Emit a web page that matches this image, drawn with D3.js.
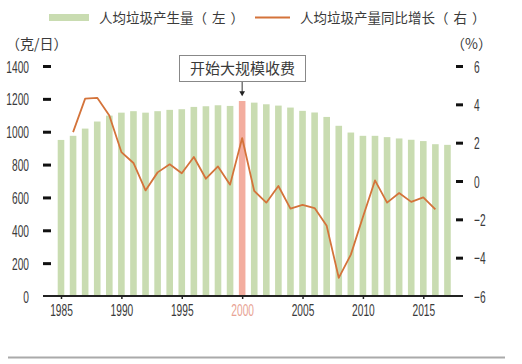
<!DOCTYPE html>
<html>
<head>
<meta charset="utf-8">
<script src="https://cdn.jsdelivr.net/npm/d3@7"></script>
<style>
  body { margin: 0; background: #fff; }
  svg { display: block; font-family: "Noto Sans CJK SC", sans-serif; }
</style>
</head>
<body>
<svg width="522" height="364"></svg>
<script>
// 年份
var years = [1985, 1986, 1987, 1988, 1989, 1990, 1991, 1992, 1993, 1994, 1995, 1996, 1997, 1998, 1999, 2000,
  2001, 2002, 2003, 2004, 2005, 2006, 2007, 2008, 2009, 2010, 2011, 2012, 2013, 2014, 2015, 2016, 2017];
// 人均垃圾产生量 (克/日)
var perCapita = [950, 975, 1019, 1062, 1098, 1116, 1125, 1116, 1125, 1133, 1137, 1151, 1155, 1161, 1157, 1187,
  1177, 1167, 1159, 1147, 1127, 1117, 1090, 1036, 995, 975, 975, 967, 959, 951, 943, 924, 920];
// 同比增长 (%), 1986 - 2016
var growthYears = years.slice(1, 32);
var growth = [2.55, 4.3, 4.34, 3.42, 1.51, 0.94, -0.49, 0.45, 0.87, 0.4, 1.25, 0.12, 0.76, -0.19, 2.24,
  -0.52, -1.13, -0.26, -1.44, -1.25, -1.41, -2.34, -5.05, -3.84, -1.88, 0.03, -1.13, -0.63, -1.09, -0.85, -1.48];
var leftTicks = [0, 200, 400, 600, 800, 1000, 1200, 1400];
var rightTicks = [-6, -4, -2, 0, 2, 4, 6];
var xTicks = [1985, 1990, 1995, 2000, 2005, 2010, 2015];
var highlightYear = 2000;

var svg = d3.select("svg");
var green = "#c9dcb1", pink = "#f3ad9f", orange = "#d4733a", txt = "#3a3a3a";
var squeeze = 0.6; // 窄体数字

var x = d3.scaleLinear().domain([1985, 2015]).range([61, 423.3]);
var yL = d3.scaleLinear().domain([0, 1400]).range([296, 66]);
var yR = d3.scaleLinear().domain([-6, 6]).range([296, 66]);

// 柱子
svg.append("g").selectAll("rect")
  .data(years)
  .enter().append("rect")
  .attr("x", function(d) { return x(d) - 3.3; })
  .attr("width", 6.6)
  .attr("y", function(d, i) { return yL(perCapita[i]); })
  .attr("height", function(d, i) { return yL(0) - yL(perCapita[i]); })
  .attr("fill", function(d) { return d === highlightYear ? pink : green; });

// 折线
var line = d3.line()
  .x(function(d, i) { return x(growthYears[i]); })
  .y(function(d) { return yR(d); });
svg.append("path")
  .datum(growth)
  .attr("d", line)
  .attr("fill", "none")
  .attr("stroke", orange)
  .attr("stroke-width", 1.8)
  .attr("stroke-linejoin", "round");

function squeezeLabels(g, anchor) {
  g.selectAll("text").each(function() {
    var t = d3.select(this);
    var tx = +t.attr("x") || 0;
    t.attr("x", tx / squeeze)
      .attr("transform", "scale(" + squeeze + ",1)")
      .attr("text-anchor", anchor);
  });
}

// 左轴
var gl = svg.append("g").attr("transform", "translate(51,0)")
  .call(d3.axisLeft(yL).tickValues(leftTicks).tickFormat(d3.format("d")).tickSize(8).tickPadding(14));
gl.select(".domain").remove();
gl.selectAll("line").attr("stroke", "#111").attr("stroke-width", 3)
  .filter(function(d) { return d === 0; }).remove();
gl.selectAll("text").attr("font-family", "Liberation Sans, Arial, sans-serif")
  .attr("font-size", 17).attr("fill", txt).attr("dy", "0.36em");
squeezeLabels(gl, "end");

// 右轴
var gr = svg.append("g").attr("transform", "translate(456,0)")
  .call(d3.axisRight(yR).tickValues(rightTicks).tickFormat(d3.format("d")).tickSize(7).tickPadding(11));
gr.select(".domain").remove();
gr.selectAll("line").attr("stroke", "#111").attr("stroke-width", 3)
  .filter(function(d) { return d === -6; }).remove();
gr.selectAll("text").attr("font-family", "Liberation Sans, Arial, sans-serif")
  .attr("font-size", 17).attr("fill", txt).attr("dy", "0.36em");
squeezeLabels(gr, "start");

// X 轴
var gx = svg.append("g").attr("transform", "translate(0,296)")
  .call(d3.axisBottom(x).tickValues(xTicks).tickFormat(d3.format("d")).tickSize(3).tickPadding(4));
gx.select(".domain").remove();
gx.selectAll("line").attr("stroke", "#222").attr("stroke-width", 1.5);
gx.selectAll("text").attr("font-family", "Liberation Sans, Arial, sans-serif")
  .attr("font-size", 17).attr("dy", "0.75em")
  .attr("fill", function(d) { return d === highlightYear ? "#e8a394" : txt; });
squeezeLabels(gx, "middle");
svg.append("line")
  .attr("x1", 43).attr("x2", 463).attr("y1", 296).attr("y2", 296)
  .attr("stroke", "#222").attr("stroke-width", 2);

// 单位
svg.append("text").attr("x", 6).attr("y", 49).attr("font-size", 14).attr("fill", txt).text("（克/日）");
svg.append("text").attr("x", 492).attr("y", 49).attr("font-size", 14).attr("fill", txt)
  .attr("text-anchor", "end").text("（%）");

// 图例
function legendText(xPos, main, side) {
  var t = svg.append("text").attr("x", xPos).attr("y", 22.5).attr("font-size", 13.5).attr("fill", txt);
  t.append("tspan").text(main);
  t.append("tspan").attr("letter-spacing", 5).text(side);
}
svg.append("rect").attr("x", 49).attr("y", 14).attr("width", 40).attr("height", 7).attr("fill", green);
legendText(99, "人均垃圾产生量", "（左）");
svg.append("line").attr("x1", 255).attr("x2", 290).attr("y1", 17.5).attr("y2", 17.5)
  .attr("stroke", orange).attr("stroke-width", 1.8);
legendText(300, "人均垃圾产量同比增长", "（右）");

// 标注
svg.append("rect").attr("x", 179.5).attr("y", 55.5).attr("width", 126).attr("height", 26)
  .attr("fill", "#fff").attr("stroke", "#888").attr("stroke-width", 1);
svg.append("text").attr("x", 242.5).attr("y", 74).attr("text-anchor", "middle")
  .attr("font-size", 15).attr("fill", txt).text("开始大规模收费");
svg.append("line").attr("x1", x(highlightYear)).attr("x2", x(highlightYear))
  .attr("y1", 82).attr("y2", 92).attr("stroke", "#333").attr("stroke-width", 1);
svg.append("path")
  .attr("d", d3.symbol(d3.symbolTriangle, 14)())
  .attr("transform", "translate(" + x(highlightYear) + ",93) rotate(180)")
  .attr("fill", "#222");

// 底部分隔线
svg.append("line").attr("x1", 8).attr("x2", 505).attr("y1", 357.5).attr("y2", 357.5)
  .attr("stroke", "#aaa").attr("stroke-width", 2);
</script>
</body>
</html>
